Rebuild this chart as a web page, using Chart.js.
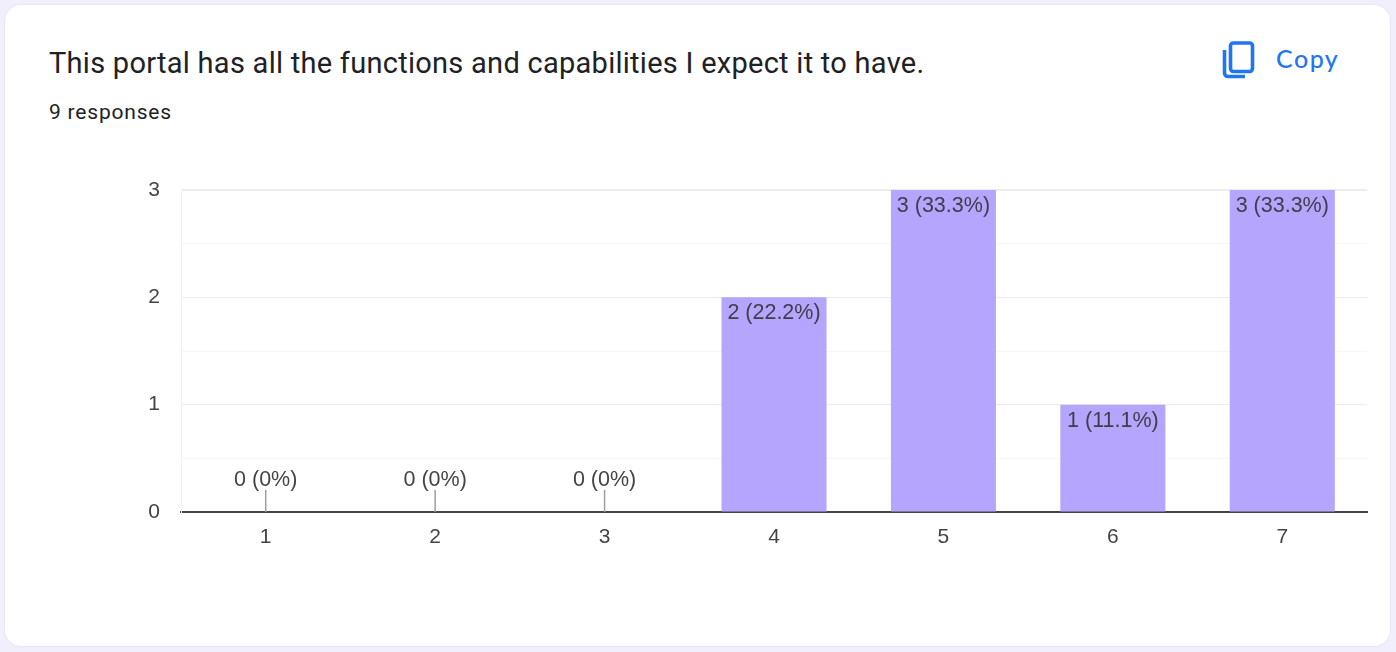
<!DOCTYPE html>
<html>
<head>
<meta charset="utf-8">
<title>Portal survey chart</title>
<script src="https://cdn.jsdelivr.net/npm/chart.js@4"></script>
<style>
    html, body { margin: 0; padding: 0; width: 1396px; height: 652px; overflow: hidden; background: #f1effb; }
    .card { position: absolute; left: 5px; top: 5px; width: 1385px; height: 641px; background: #fff; border-radius: 16px; box-shadow: 0 0 0 1px #e9e6f8; }
    .title { position: absolute; left: 49px; top: 46px; font: 400 29px Roboto, sans-serif; letter-spacing: 0.27px; color: #202124; white-space: nowrap; }
    .responses { position: absolute; left: 49px; top: 100px; font: 400 21px Roboto, sans-serif; letter-spacing: 0.8px; color: #202124; white-space: nowrap; }
    .copy { position: absolute; left: 1276px; top: 43px; font: 500 25px Lato, sans-serif; color: #2176ee; letter-spacing: 1.5px; }
    .copy-icon { position: absolute; left: 1221px; top: 40px; }
    .chart-box { position: absolute; left: 130px; top: 170px; width: 1240px; height: 400px; }
</style>
</head>
<body>
<div class="card"></div>
<div class="title">This portal has all the functions and capabilities I expect it to have.</div>
<div class="responses">9 responses</div>
<svg class="copy-icon" width="36" height="40" viewBox="0 0 36 40">
    <rect x="9.5" y="3" width="22" height="28.5" rx="3" fill="none" stroke="#2176ee" stroke-width="3.6"/>
    <path d="M3.5 10 V33 a3.5 3.5 0 0 0 3.5 3.5 H24" fill="none" stroke="#2176ee" stroke-width="3.6"/>
</svg>
<div class="copy">Copy</div>
<div class="chart-box"><canvas id="surveyChart"></canvas></div>

<script>
// Данные графика
const categories = ['1', '2', '3', '4', '5', '6', '7'];
const counts = [0, 0, 0, 2, 3, 1, 3];
const countLabels = ['0 (0%)', '0 (0%)', '0 (0%)', '2 (22.2%)', '3 (33.3%)', '1 (11.1%)', '3 (33.3%)'];

const labelFont = '21.5px "Liberation Sans", Arial, sans-serif';

// Подписи значений и короткие риски у нулевых столбцов
const countLabelPlugin = {
    id: 'countLabels',
    afterDatasetsDraw(chart) {
        const c = chart.ctx;
        const x = chart.scales.x;
        const y = chart.scales.y;
        c.save();
        c.font = labelFont;
        c.textAlign = 'center';
        c.textBaseline = 'middle';
        counts.forEach((v, i) => {
            const px = x.getPixelForValue(i);
            const py = y.getPixelForValue(v);
            if (v === 0) {
                c.strokeStyle = '#9e9e9e';
                c.lineWidth = 1.5;
                c.beginPath();
                c.moveTo(px, py - 22);
                c.lineTo(px, py);
                c.stroke();
                c.fillStyle = '#444';
                c.fillText(countLabels[i], px, py - 32);
            } else {
                c.fillStyle = '#3f3d4a';
                c.fillText(countLabels[i], px, py + 16);
            }
        });
        c.restore();
    }
};

new Chart(document.getElementById('surveyChart').getContext('2d'), {
    type: 'bar',
    data: {
        labels: categories,
        datasets: [{ data: counts, backgroundColor: '#b5a5fc', barPercentage: 0.62, categoryPercentage: 1 }]
    },
    options: {
        responsive: true,
        maintainAspectRatio: false,
        animation: false,
        layout: { padding: { top: 20, right: 3 } },
        plugins: { legend: { display: false }, tooltip: { enabled: false } },
        scales: {
            x: {
                afterFit(scale) { scale.height = 58; },
                grid: { display: false },
                border: { color: '#444', width: 2 },
                ticks: { color: '#444', font: { size: 21, family: '"Liberation Sans", Arial, sans-serif' }, padding: 5, maxRotation: 0 }
            },
            y: {
                min: 0,
                max: 3,
                afterFit(scale) { scale.width = 51; scale.paddingTop = 0; scale.paddingBottom = 0; },
                border: { color: '#efefef', width: 1 },
                grid: {
                    drawTicks: false,
                    color: ctx => Number.isInteger(ctx.tick.value) ? '#ececec' : '#f6f6f6',
                    lineWidth: ctx => ctx.tick.value === 3 ? 2 : 1
                },
                ticks: {
                    stepSize: 0.5,
                    color: '#444',
                    padding: 21,
                    font: { size: 21, family: '"Liberation Sans", Arial, sans-serif' },
                    callback: v => Number.isInteger(v) ? String(v) : ''
                }
            }
        }
    },
    plugins: [countLabelPlugin]
});
</script>
</body>
</html>
